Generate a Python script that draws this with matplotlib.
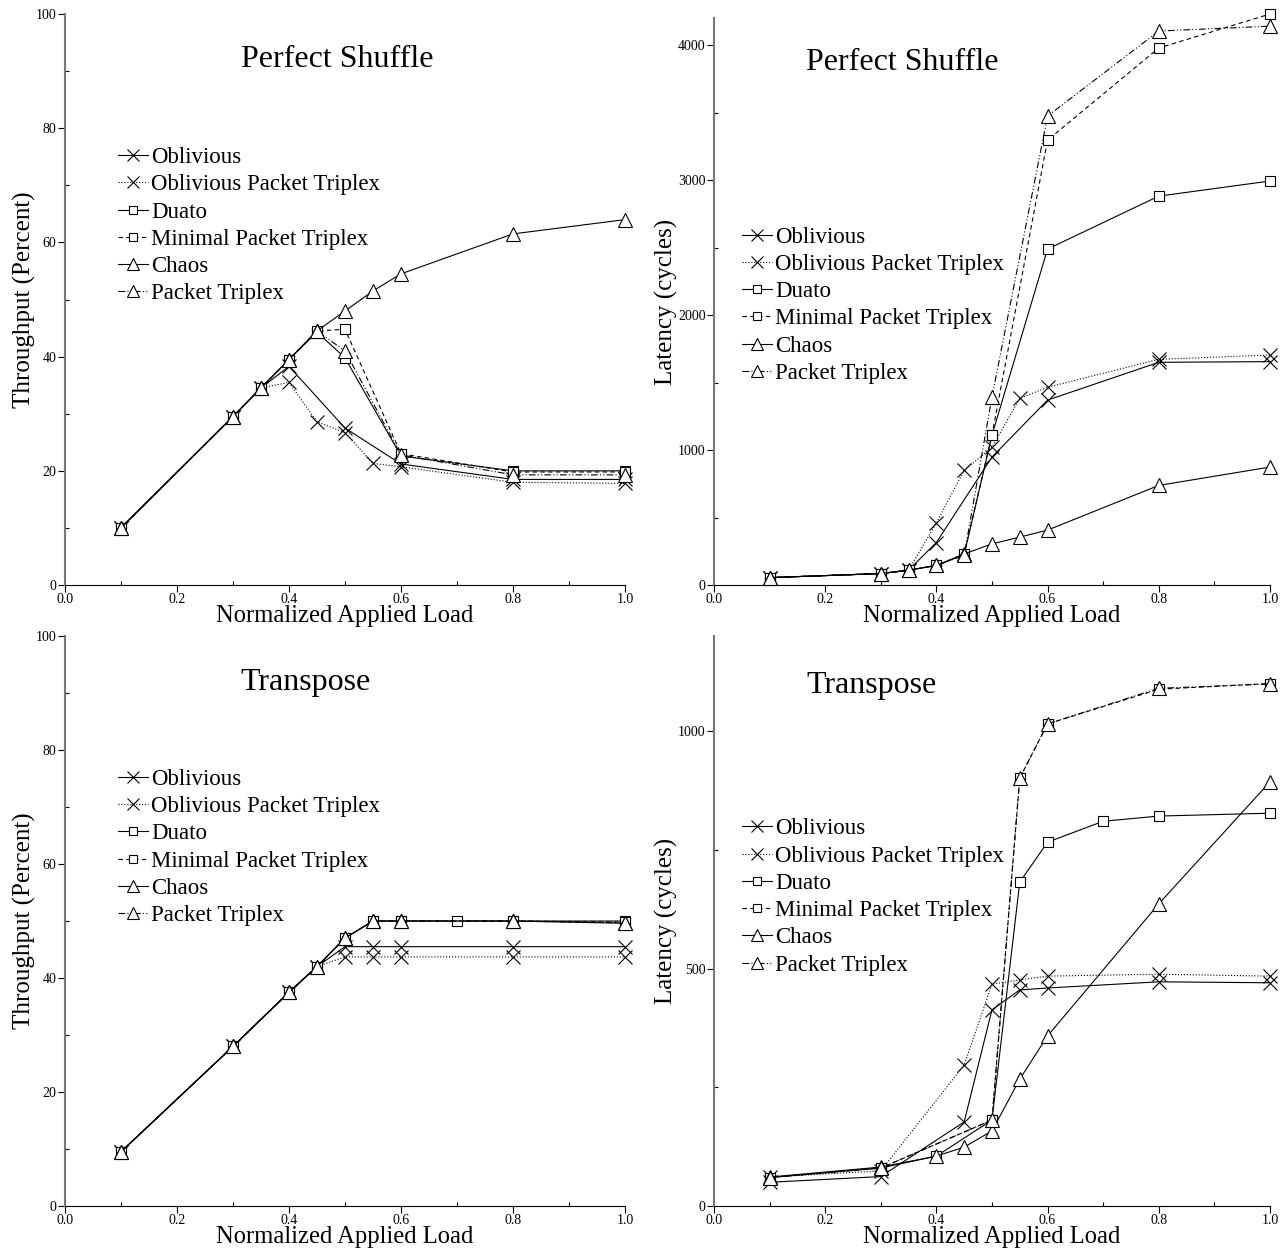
import numpy as np
import matplotlib.pyplot as plt
from matplotlib.ticker import MultipleLocator

plt.rcParams['font.family'] = ['Liberation Serif', 'DejaVu Serif']

NAMES = ['Oblivious', 'Oblivious Packet Triplex', 'Duato',
         'Minimal Packet Triplex', 'Chaos', 'Packet Triplex']

# ---- Perfect Shuffle, throughput (percent) ----
ps_tp_x = {
    'Oblivious': [0.1, 0.3, 0.35, 0.4, 0.5, 0.6, 0.8, 1.0],
    'Oblivious Packet Triplex': [0.1, 0.3, 0.35, 0.4, 0.45, 0.5, 0.55, 0.6, 0.8, 1.0],
    'Duato': [0.1, 0.3, 0.35, 0.4, 0.45, 0.5, 0.6, 0.8, 1.0],
    'Minimal Packet Triplex': [0.1, 0.3, 0.35, 0.4, 0.45, 0.5, 0.6, 0.8, 1.0],
    'Chaos': [0.1, 0.3, 0.35, 0.4, 0.45, 0.5, 0.55, 0.6, 0.8, 1.0],
    'Packet Triplex': [0.1, 0.3, 0.35, 0.4, 0.45, 0.5, 0.6, 0.8, 1.0],
}
ps_tp_y = {
    'Oblivious': [10, 29.5, 34.5, 38.3, 27.5, 21.2, 18.5, 18.5],
    'Oblivious Packet Triplex': [10, 29.5, 34.5, 35.5, 28.6, 26.7, 21.3, 20.7, 18.0, 17.8],
    'Duato': [10, 29.5, 34.5, 39.5, 44.3, 39.8, 22.6, 20.0, 20.0],
    'Minimal Packet Triplex': [10, 29.5, 34.5, 39.5, 44.5, 44.8, 23.0, 19.8, 19.8],
    'Chaos': [10, 29.5, 34.5, 39.5, 44.5, 48.0, 51.5, 54.5, 61.5, 64.0],
    'Packet Triplex': [10, 29.5, 34.5, 39.5, 44.5, 41.0, 22.8, 19.3, 19.3],
}

# ---- Perfect Shuffle, latency (cycles) ----
ps_lat_x = {
    'Oblivious': [0.1, 0.3, 0.35, 0.4, 0.5, 0.6, 0.8, 1.0],
    'Oblivious Packet Triplex': [0.1, 0.3, 0.35, 0.4, 0.45, 0.5, 0.55, 0.6, 0.8, 1.0],
    'Duato': [0.1, 0.3, 0.35, 0.4, 0.45, 0.5, 0.6, 0.8, 1.0],
    'Minimal Packet Triplex': [0.1, 0.3, 0.35, 0.4, 0.45, 0.5, 0.6, 0.8, 1.0],
    'Chaos': [0.1, 0.3, 0.35, 0.4, 0.45, 0.5, 0.55, 0.6, 0.8, 1.0],
    'Packet Triplex': [0.1, 0.3, 0.35, 0.4, 0.45, 0.5, 0.6, 0.8, 1.0],
}
ps_lat_y = {
    'Oblivious': [55, 85, 110, 315, 948, 1370, 1650, 1655],
    'Oblivious Packet Triplex': [55, 85, 110, 460, 850, 1020, 1383, 1465, 1672, 1704],
    'Duato': [55, 85, 110, 145, 225, 1110, 2489, 2881, 2993],
    'Minimal Packet Triplex': [55, 85, 110, 145, 230, 1111, 3296, 3978, 4230],
    'Chaos': [55, 85, 110, 145, 230, 305, 355, 407, 738, 874],
    'Packet Triplex': [55, 85, 110, 145, 220, 1393, 3474, 4104, 4140],
}

# ---- Transpose, throughput (percent) ----
tr_tp_x = {
    'Oblivious': [0.1, 0.3, 0.4, 0.45, 0.5, 0.55, 0.6, 0.8, 1.0],
    'Oblivious Packet Triplex': [0.1, 0.3, 0.4, 0.45, 0.5, 0.55, 0.6, 0.8, 1.0],
    'Duato': [0.1, 0.3, 0.4, 0.45, 0.5, 0.55, 0.6, 0.7, 0.8, 1.0],
    'Minimal Packet Triplex': [0.1, 0.3, 0.4, 0.45, 0.5, 0.55, 0.6, 0.8, 1.0],
    'Chaos': [0.1, 0.3, 0.4, 0.45, 0.5, 0.55, 0.6, 0.8, 1.0],
    'Packet Triplex': [0.1, 0.3, 0.4, 0.45, 0.5, 0.55, 0.6, 0.8, 1.0],
}
tr_tp_y = {
    'Oblivious': [9.5, 28, 37.5, 42, 45.5, 45.5, 45.5, 45.5, 45.5],
    'Oblivious Packet Triplex': [9.5, 28, 37.5, 42, 43.7, 43.7, 43.7, 43.7, 43.7],
    'Duato': [9.5, 28, 37.5, 42, 47, 50, 50, 50, 50, 50],
    'Minimal Packet Triplex': [9.5, 28, 37.5, 42, 47, 50, 50, 50, 49.8],
    'Chaos': [9.5, 28, 37.5, 42, 47, 50, 50, 50, 49.6],
    'Packet Triplex': [9.5, 28, 37.5, 42, 47, 50, 50, 50, 49.7],
}

# ---- Transpose, latency (cycles) ----
tr_lat_x = {
    'Oblivious': [0.1, 0.3, 0.45, 0.5, 0.55, 0.6, 0.8, 1.0],
    'Oblivious Packet Triplex': [0.1, 0.3, 0.45, 0.5, 0.55, 0.6, 0.8, 1.0],
    'Duato': [0.1, 0.3, 0.4, 0.5, 0.55, 0.6, 0.7, 0.8, 1.0],
    'Minimal Packet Triplex': [0.1, 0.3, 0.5, 0.55, 0.6, 0.8, 1.0],
    'Chaos': [0.1, 0.3, 0.4, 0.45, 0.5, 0.55, 0.6, 0.8, 1.0],
    'Packet Triplex': [0.1, 0.3, 0.5, 0.55, 0.6, 0.8, 1.0],
}
tr_lat_y = {
    'Oblivious': [50, 62, 177, 413, 455, 459, 472, 470],
    'Oblivious Packet Triplex': [61, 74, 297, 467, 476, 484, 488, 484],
    'Duato': [60, 80, 105, 181, 682, 766, 810, 821, 827],
    'Minimal Packet Triplex': [60, 80, 181, 901, 1015, 1088, 1100],
    'Chaos': [61, 82, 105, 124, 158, 267, 358, 636, 893],
    'Packet Triplex': [60, 80, 181, 901, 1015, 1090, 1099],
}

STYLE = {
    'Oblivious': dict(marker='x', ms=10, ls='-'),
    'Oblivious Packet Triplex': dict(marker='x', ms=10, ls=':'),
    'Duato': dict(marker='s', ms=7, ls='-'),
    'Minimal Packet Triplex': dict(marker='s', ms=7, ls=(0, (4, 3))),
    'Chaos': dict(marker='^', ms=10, ls='-'),
    'Packet Triplex': dict(marker='^', ms=10, ls=(0, (6, 2, 1, 2, 1, 2))),
}


def draw(ax, xs, ys, ymax, ymajor, title, title_pos, leg_pos, ylabel):
    for n in NAMES:
        st = STYLE[n]
        ax.plot(xs[n], ys[n], color='black', lw=0.8, linestyle=st['ls'],
                marker=st['marker'], ms=st['ms'], mfc='white', mec='black',
                mew=0.8, label=n, clip_on=False)
    ax.set_xlim(0, 1.0)
    ax.set_ylim(0, ymax)
    ax.xaxis.set_major_locator(MultipleLocator(0.2))
    ax.xaxis.set_minor_locator(MultipleLocator(0.1))
    ax.yaxis.set_major_locator(MultipleLocator(ymajor))
    ax.yaxis.set_minor_locator(MultipleLocator(ymajor / 2))
    ax.xaxis.set_major_formatter(plt.FuncFormatter(lambda v, p: '%.1f' % v))
    for s in ['top', 'right']:
        ax.spines[s].set_visible(False)
    ax.spines['left'].set_color('#777777')
    ax.spines['left'].set_linewidth(1.5)
    ax.spines['bottom'].set_color('black')
    ax.tick_params(which='major', direction='out', length=5, width=0.8,
                   labelsize=10, pad=1)
    ax.tick_params(which='minor', direction='in', length=3, width=0.8)
    ax.set_xlabel('Normalized Applied Load', fontsize=17.7, labelpad=-1)
    ax.set_ylabel(ylabel, fontsize=18, labelpad=0)
    ax.text(title_pos[0], title_pos[1], title, transform=ax.transAxes,
            fontsize=23, ha='center', va='center')
    ax.legend(loc='upper left', bbox_to_anchor=leg_pos, frameon=False,
              fontsize=16.5, handlelength=1.3, handletextpad=0.15,
              labelspacing=0.27, borderaxespad=0, borderpad=0,
              markerscale=0.8)


fig = plt.figure(figsize=(12.86, 12.56), dpi=100)
ax1 = fig.add_axes([0.0505, 0.5342, 0.4355, 0.4546])
ax2 = fig.add_axes([0.5552, 0.5342, 0.4323, 0.4514])
ax3 = fig.add_axes([0.0505, 0.0398, 0.4355, 0.4538])
ax4 = fig.add_axes([0.5552, 0.0398, 0.4323, 0.4538])

draw(ax1, ps_tp_x, ps_tp_y, 100, 20, 'Perfect Shuffle', (0.486, 0.92),
     (0.095, 0.767), 'Throughput (Percent)')
draw(ax2, ps_lat_x, ps_lat_y, 4200, 1000, 'Perfect Shuffle', (0.338, 0.922),
     (0.05, 0.632), 'Latency (cycles)')
draw(ax3, tr_tp_x, tr_tp_y, 100, 20, 'Transpose', (0.43, 0.919),
     (0.095, 0.767), 'Throughput (Percent)')
draw(ax4, tr_lat_x, tr_lat_y, 1200, 500, 'Transpose', (0.284, 0.914),
     (0.05, 0.68), 'Latency (cycles)')

fig.savefig('out.png', dpi=100)
